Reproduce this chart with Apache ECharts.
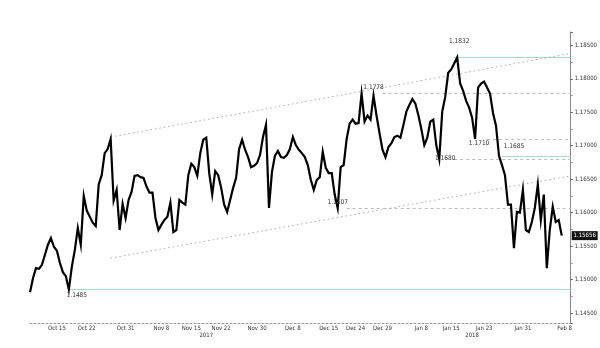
<!DOCTYPE html>
<html><head><meta charset="utf-8">
<script src="https://cdn.jsdelivr.net/npm/echarts@6/dist/echarts.min.js"></script>
<style>html,body{margin:0;padding:0;background:#fff}#c{width:600px;height:348px}</style>
</head><body><div id="c"></div>
<script>
// ---- data ----
const closes = [
1.1481,1.1502,1.1517,1.1516,1.1522,1.1537,1.1552,1.1562,1.1549,1.1543,
1.1525,1.1511,1.1505,1.1485,1.1519,1.1544,1.1577,1.1552,1.1625,1.1603,
1.1594,1.1585,1.1580,1.1642,1.1656,1.1689,1.1695,1.1710,1.1618,1.1634,
1.1574,1.1613,1.1592,1.1619,1.1631,1.1655,1.1656,1.1653,1.1652,1.1639,
1.1630,1.1630,1.1592,1.1574,1.1582,1.1589,1.1594,1.1615,1.1571,1.1574,
1.1619,1.1615,1.1612,1.1656,1.1673,1.1668,1.1655,1.1689,1.1709,1.1712,
1.1659,1.1627,1.1662,1.1656,1.1637,1.1612,1.1601,1.1619,1.1637,1.1652,
1.1695,1.1709,1.1694,1.1683,1.1668,1.1670,1.1674,1.1686,1.1713,1.1731,
1.1607,1.1661,1.1685,1.1692,1.1683,1.1682,1.1686,1.1695,1.1713,1.1701,
1.1694,1.1689,1.1683,1.1671,1.1649,1.1634,1.1649,1.1653,1.1691,1.1667,
1.1659,1.1659,1.1627,1.1607,1.1668,1.1671,1.1710,1.1733,1.1739,1.1733,
1.1734,1.1778,1.1736,1.1745,1.1739,1.1775,1.1745,1.1719,1.1694,1.1683,
1.1698,1.1704,1.1713,1.1715,1.1712,1.1731,1.1751,1.1761,1.1770,1.1763,
1.1746,1.1725,1.1701,1.1712,1.1736,1.1739,1.1701,1.1680,1.1751,1.1773,
1.1809,1.1814,1.1823,1.1832,1.1793,1.1782,1.1767,1.1757,1.1742,1.1710,
1.1787,1.1793,1.1796,1.1787,1.1778,1.1749,1.1730,1.1685,1.1671,1.1656,
1.1612,1.1612,1.1547,1.1601,1.1600,1.1634,1.1574,1.1571,1.1586,1.1607,
1.1642,1.1589,1.1627,1.1517,1.1574,1.1609,1.1586,1.1589,1.15656
];
const barCount = 182;
const tickIdx  = [9,19,32,44,54,64,76,88,100,109,118,131,141,152,165,179];
const tickText = ['Oct 15','Oct 22','Oct 31','Nov 8','Nov 15','Nov 22','Nov 30','Dec 8','Dec 15','Dec 24','Dec 29','Jan 8','Jan 15','Jan 23','Jan 31','Feb 8'];
const yearIdx  = [59,148];
const yearText = ['2017','2018'];
// horizontal levels
const levelStart = [142,118,153,142,158,106,13];
const levelValue = [1.1832,1.1778,1.1710,1.1680,1.1685,1.1607,1.1485];
const levelKind  = ['teal','dash','dash','dash','teal','dash','teal'];
// channel lines: [i0, v0, i1, v1]
const channelUpper = [27,1.1713,181,1.1838];
const channelLower = [27,1.1532,181,1.1655];
// annotation labels
const noteIdx = [143,111,149,137,157,103,13];
const noteVal = [1.1832,1.1778,1.1710,1.1680,1.1685,1.1607,1.1485];
const noteText = ['1.1832','1.1778','1.1710','1.1680','1.1685','1.1607','1.1485'];
const noteOffset = [[2,-16],[12,-6],[4,4],[6,-1],[15,-9],[0,-6],[8,6]];

const categories = Array.from({length: barCount}, (_, i) => 'b' + i);
const FONT = '"Liberation Sans Narrow","DejaVu Sans Condensed","Liberation Sans",sans-serif';
const TEAL = '#a9d8cf';

const chart = echarts.init(document.getElementById('c'), null, {renderer:'canvas'});

const markLineData = levelValue.map((v, k) => [
  {coord:[levelStart[k], v], lineStyle: levelKind[k]==='teal'
     ? {color:TEAL, width:1, type:'solid'}
     : {color:'#bdbdbd', width:1, type:[3,3]}},
  {coord:[barCount-1, v]}
]);
[channelUpper, channelLower].forEach(c => markLineData.push([
  {coord:[c[0], c[1]], lineStyle:{color:'#aaaaaa', width:1, type:[1.5,3]}},
  {coord:[c[2], c[3]]}
]));

const markPointData = noteText.map((t, k) => ({
  name: t, coord:[noteIdx[k], noteVal[k]],
  label:{offset: noteOffset[k]}
}));

chart.setOption({
  animation:false,
  grid:{left:30, right:28, top:32, bottom:25},
  xAxis:{
    type:'category', data:categories, boundaryGap:false,
    axisLine:{show:true, lineStyle:{color:'#999', width:1, type:[2,2]}},
    axisTick:{show:false},
    splitLine:{show:false},
    axisLabel:{
      interval:(i)=>tickIdx.indexOf(i)>=0,
      formatter:(v,i)=>{const k=tickIdx.indexOf(i); return k>=0?tickText[k]:'';},
      fontSize:6, color:'#333', margin:2, fontFamily:FONT
    }
  },
  yAxis:{
    type:'value', position:'right', min:1.1435, max:1.187, splitNumber:9,
    axisLine:{show:true, lineStyle:{color:'#888', width:1}},
    axisTick:{show:true, length:2, lineStyle:{color:'#555'}},
    minorTick:{show:true, splitNumber:2, length:2, lineStyle:{color:'#999'}},
    splitLine:{show:false},
    axisLabel:{
      fontSize:6, color:'#333', margin:4, fontFamily:FONT,
      showMinLabel:false, showMaxLabel:false,
      formatter:(v)=>{const q=v/0.005; return Math.abs(q-Math.round(q))<1e-6? v.toFixed(5):'';}
    }
  },
  series:[{
    type:'line', data:closes, showSymbol:false, symbol:'none',
    lineStyle:{color:'#000', width:2.2, join:'miter'}, z:3,
    markLine:{silent:true, symbol:['none','none'], label:{show:false}, data:markLineData, z:1},
    markPoint:{
      silent:true, symbol:'circle', symbolSize:0,
      label:{show:true, position:'inside', formatter:(p)=>p.name, fontSize:6.5, color:'#333', fontFamily:FONT},
      data:markPointData
    }
  }]
});

// current price badge and year labels
const last = closes[closes.length-1];
const yb = chart.convertToPixel({yAxisIndex:0}, last);
const xr = chart.convertToPixel({xAxisIndex:0}, barCount-1);
const g = [
  {type:'rect', shape:{x:xr+1, y:yb-4.5, width:26, height:9}, style:{fill:'#111'}},
  {type:'text', x:xr+14, y:yb, style:{text:last.toFixed(5), fill:'#fff', font:'6px '+FONT, align:'center', verticalAlign:'middle'}}
];
yearText.forEach((t,k)=>{
  g.push({type:'text', x:chart.convertToPixel({xAxisIndex:0}, yearIdx[k]), y:335,
    style:{text:t, fill:'#333', font:'6px '+FONT, align:'center', verticalAlign:'middle'}});
});
chart.setOption({graphic:g});
</script></body></html>
